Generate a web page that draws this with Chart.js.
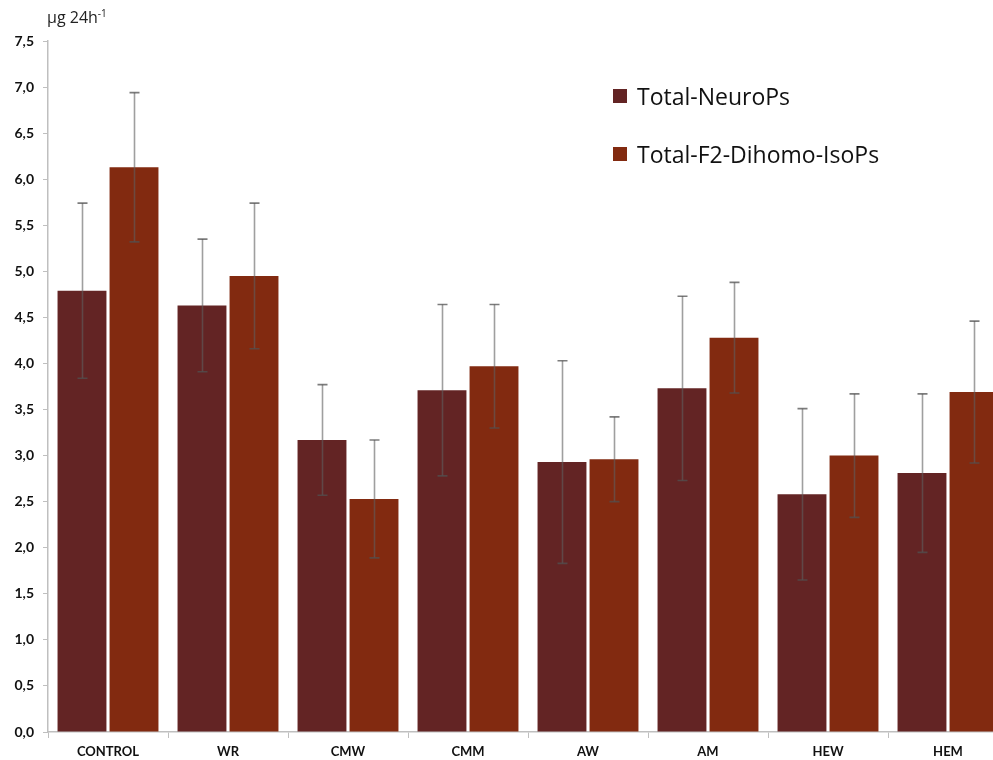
<!DOCTYPE html>
<html>
<head>
<meta charset="utf-8">
<script src="https://cdn.jsdelivr.net/npm/chart.js@4/dist/chart.umd.min.js"></script>
<style>
  html, body { margin: 0; padding: 0; background: #fff; overflow: hidden; }
  #wrap { position: relative; width: 993px; height: 760px; overflow: hidden; }
  #c { position: absolute; left: 0; top: 0; }
  #unit { position: absolute; left: 47px; top: 6px; font: 16px "Open Sans", Lato, sans-serif; color: #222; }
  #unit sup { font-size: 10px; }
  #legend { position: absolute; left: 613px; top: 81px; font: 23px "Open Sans", Lato, sans-serif; color: #111; }
  #legend .item { display: flex; align-items: center; height: 30px; margin-bottom: 28px; }
  #legend .sw { width: 14px; height: 14px; margin-right: 10px; }
</style>
</head>
<body>
<div id="wrap">
  <canvas id="c" width="1008" height="760"></canvas>
  <div id="unit">µg 24h<sup>-1</sup></div>
  <div id="legend"></div>
</div>
<script>
// Groups on the x axis
const categories = ['CONTROL', 'WR', 'CMW', 'CMM', 'AW', 'AM', 'HEW', 'HEM'];

// Mean urinary excretion (µg 24h-1)
const neuroPs = [4.79, 4.63, 3.17, 3.71, 2.93, 3.73, 2.58, 2.81];
const dihomoIsoPs = [6.13, 4.95, 2.53, 3.97, 2.96, 4.28, 3.00, 3.69];

// Standard deviations
const neuroPsErr = [0.95, 0.72, 0.60, 0.93, 1.10, 1.00, 0.93, 0.86];
const dihomoIsoPsErr = [0.81, 0.79, 0.64, 0.67, 0.46, 0.60, 0.67, 0.77];

// Y tick values
const yTicks = [0, 0.5, 1, 1.5, 2, 2.5, 3, 3.5, 4, 4.5, 5, 5.5, 6, 6.5, 7, 7.5];

const seriesNames = ['Total-NeuroPs', 'Total-F2-Dihomo-IsoPs'];
const seriesColors = ['#632424', '#822a10'];

const errorBars = {
  id: 'errorBars',
  afterDatasetsDraw(chart) {
    const ctx = chart.ctx;
    const y = chart.scales.y;
    ctx.save();
    chart.data.datasets.forEach((ds, di) => {
      const meta = chart.getDatasetMeta(di);
      meta.data.forEach((bar, i) => {
        const v = ds.data[i], e = ds.errors[i];
        const yt = y.getPixelForValue(v + e);
        const yb = y.getPixelForValue(v - e);
        const x = Math.round(bar.x) + 0.5;
        ctx.strokeStyle = 'rgba(95,95,95,0.6)';
        ctx.lineWidth = 1.6;
        ctx.beginPath();
        ctx.moveTo(x, yt); ctx.lineTo(x, yb);
        ctx.stroke();
        ctx.strokeStyle = 'rgba(80,80,80,0.75)';
        ctx.beginPath();
        ctx.moveTo(x - 5, yt); ctx.lineTo(x + 5, yt);
        ctx.moveTo(x - 5, yb); ctx.lineTo(x + 5, yb);
        ctx.stroke();
      });
    });
    ctx.restore();
  }
};

const chart = new Chart(document.getElementById('c'), {
  type: 'bar',
  data: {
    labels: categories,
    datasets: [
      { label: seriesNames[0], data: neuroPs, errors: neuroPsErr, backgroundColor: seriesColors[0] },
      { label: seriesNames[1], data: dihomoIsoPs, errors: dihomoIsoPsErr, backgroundColor: seriesColors[1] }
    ]
  },
  options: {
    responsive: false,
    animation: false,
    devicePixelRatio: 1,
    layout: { padding: { top: 41, right: 0, left: 0, bottom: 0 } },
    datasets: { bar: { categoryPercentage: 0.867, barPercentage: 0.94 } },
    plugins: { legend: { display: false }, tooltip: { enabled: false } },
    scales: {
      x: {
        afterFit: (s) => { s.height = 28; },
        grid: { drawOnChartArea: false, color: '#bfbfbf', tickLength: 6, offset: true },
        border: { color: '#bfbfbf', width: 1.5 },
        ticks: { color: '#111', font: { family: 'Lato', weight: 'bold', size: 13 }, padding: 6, maxRotation: 0 }
      },
      y: {
        min: 0, max: 7.5,
        afterBuildTicks: (s) => { s.ticks = yTicks.map(v => ({ value: v })); },
        afterFit: (s) => { s.width = 48; },
        grid: { drawOnChartArea: false, color: '#bfbfbf', tickLength: 5 },
        border: { color: '#bfbfbf', width: 1.5 },
        ticks: {
          color: '#111', font: { family: 'Lato', weight: 'bold', size: 14 }, padding: 9,
          callback: (v) => Number(v).toFixed(1).replace('.', ',')
        }
      }
    }
  },
  plugins: [errorBars]
});

// Legend built from the chart's own datasets
const legend = document.getElementById('legend');
chart.data.datasets.forEach((ds) => {
  const item = document.createElement('div');
  item.className = 'item';
  const sw = document.createElement('span');
  sw.className = 'sw';
  sw.style.background = ds.backgroundColor;
  const tx = document.createElement('span');
  tx.textContent = ds.label;
  item.appendChild(sw); item.appendChild(tx);
  legend.appendChild(item);
});
</script>
</body>
</html>
